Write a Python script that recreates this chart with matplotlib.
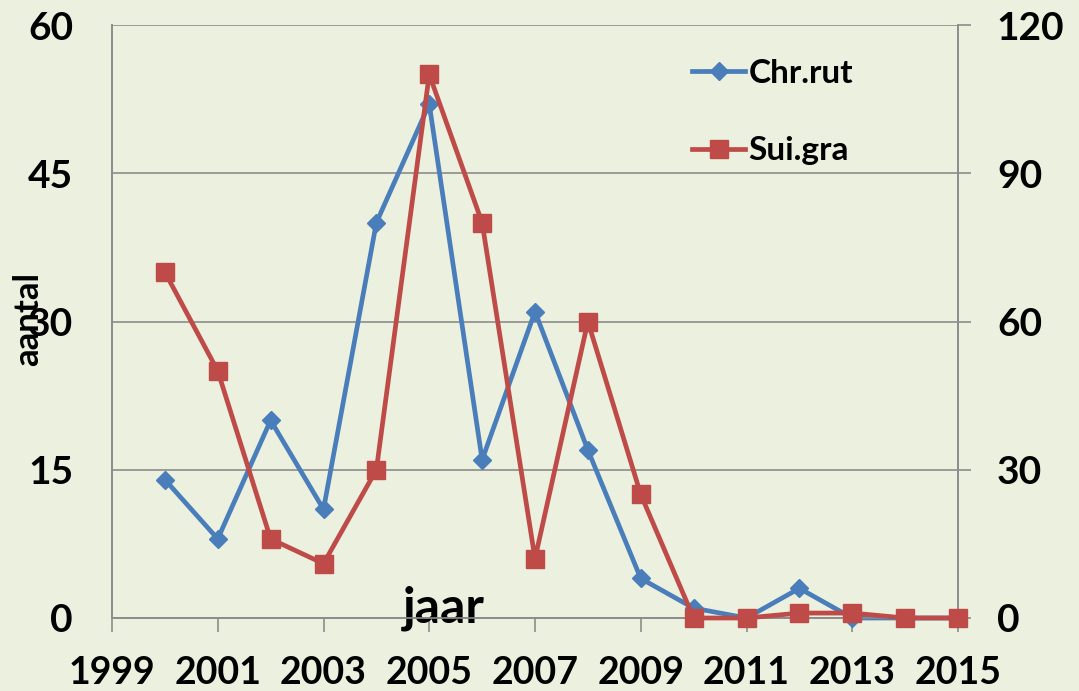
import numpy as np
import matplotlib
matplotlib.use("Agg")
import matplotlib.pyplot as plt
from matplotlib.ticker import MultipleLocator

plt.rcParams['font.family'] = ['Lato', 'DejaVu Sans']
plt.rcParams['font.weight'] = 'bold'

years = [2000, 2001, 2002, 2003, 2004, 2005, 2006, 2007,
         2008, 2009, 2010, 2011, 2012, 2013, 2014, 2015]
chr_rut = [14, 8, 20, 11, 40, 52, 16, 31, 17, 4, 1, 0, 3, 0, 0, 0]
sui_gra = [70, 50, 16, 11, 30, 110, 80, 12, 60, 25, 0, 0, 1, 1, 0, 0]
year_ticks = [1999, 2001, 2003, 2005, 2007, 2009, 2011, 2013, 2015]

bg = '#ECF0DF'
grid_c = '#8C8C8C'
blue = '#4A7EBB'
red = '#BE4B48'

fig = plt.figure(figsize=(10.79, 6.91), dpi=100, facecolor=bg)
ax = fig.add_axes([112 / 1079, 73 / 691, 846 / 1079, 593 / 691])
ax.set_facecolor(bg)
ax2 = ax.twinx()

l1, = ax.plot(years, chr_rut, color=blue, lw=3.4, marker='D', ms=9.5,
              mec=blue, label='Chr.rut', clip_on=False, zorder=3)
l2, = ax2.plot(years, sui_gra, color=red, lw=3.4, marker='s', ms=13,
               mec=red, label='Sui.gra', clip_on=False, zorder=3)

ax.set_xlim(1999, 2015)
ax.set_ylim(0, 60)
ax2.set_ylim(0, 120)
ax.set_xticks(year_ticks)
ax.yaxis.set_major_locator(MultipleLocator(15))
ax2.yaxis.set_major_locator(MultipleLocator(30))

ax.grid(axis='y', color=grid_c, lw=1.2)
ax.set_axisbelow(True)

for a in (ax, ax2):
    for s in a.spines.values():
        s.set_color(grid_c)
        s.set_linewidth(1.2)
    a.spines['top'].set_visible(False)

ax.tick_params(axis='x', length=10, width=1.2, color=grid_c, pad=17,
               labelsize=27)
ax.tick_params(axis='y', length=0, pad=28, labelsize=28)
ax2.tick_params(axis='y', length=9, width=1.2, color=grid_c, pad=19,
                labelsize=28)

ax.set_ylabel('aantal', fontsize=25, fontweight='bold')
ax.yaxis.set_label_coords(-0.08, 0.505)
ax.text(2005.27, -0.5, 'jaar', fontsize=36, fontweight='bold',
        ha='center', va='baseline')

ax2.legend(handles=[l1, l2], loc='upper left',
           bbox_to_anchor=(692 / 1079, 1 - 59 / 691),
           bbox_transform=fig.transFigure, frameon=False,
           fontsize=24, labelspacing=1.45, handlelength=1.6,
           handletextpad=0.1, borderpad=0, borderaxespad=0)

fig.savefig('out.png', dpi=100, facecolor=bg)
